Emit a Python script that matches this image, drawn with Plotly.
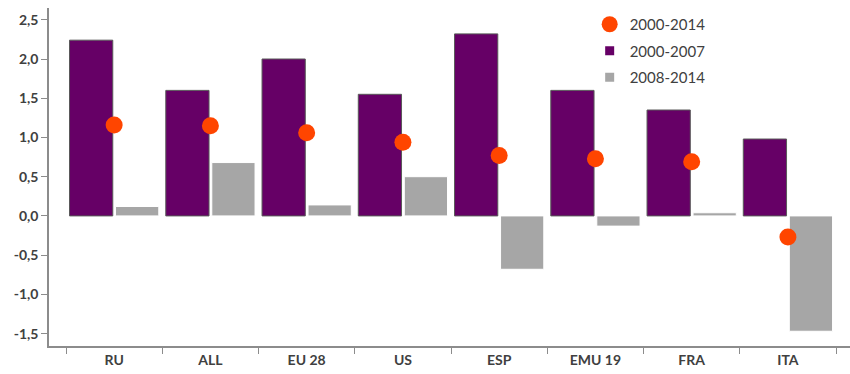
import plotly.graph_objects as go

countries = ["RU", "ALL", "EU 28", "US", "ESP", "EMU 19", "FRA", "ITA"]
growth_2000_2014 = [1.16, 1.15, 1.06, 0.94, 0.77, 0.73, 0.69, -0.27]
growth_2000_2007 = [2.24, 1.60, 2.00, 1.55, 2.32, 1.60, 1.35, 0.98]
growth_2008_2014 = [0.12, 0.68, 0.14, 0.50, -0.68, -0.13, 0.04, -1.47]
series_names = ["2000-2014", "2000-2007", "2008-2014"]

font_family = "Lato, 'Open Sans', sans-serif"
text_color = "#404040"
axis_color = "#8c8c8c"
purple = "#660066"
grey = "#a6a6a6"
orange = "#ff4500"

fig = go.Figure()
fig.add_trace(go.Bar(
    x=countries, y=growth_2000_2007, name=series_names[1], showlegend=False,
    marker=dict(color=purple, line=dict(color="#595959", width=1)),
))
fig.add_trace(go.Bar(
    x=countries, y=growth_2008_2014, name=series_names[2], showlegend=False,
    marker=dict(color=grey, line=dict(color="#ffffff", width=1)),
))
fig.add_trace(go.Scatter(
    x=countries, y=growth_2000_2014, name=series_names[0], mode="markers",
    showlegend=False,
    marker=dict(color=orange, size=17, symbol="circle"),
))

# legend entries with small square swatches for the bar series
legend_styles = [
    (series_names[0], orange, "circle", 17),
    (series_names[1], purple, "square", 9),
    (series_names[2], grey, "square", 9),
]
for rank, (name, color, symbol, size) in enumerate(legend_styles):
    fig.add_trace(go.Scatter(
        x=[None], y=[None], name=name, mode="markers", legendgroup=name,
        legendrank=rank + 1, showlegend=True,
        marker=dict(color=color, symbol=symbol, size=size),
    ))

fig.update_layout(
    width=850, height=374,
    margin=dict(l=49, r=0, t=8, b=28),
    plot_bgcolor="white", paper_bgcolor="white",
    barmode="group", bargap=0.044, bargroupgap=0.06,
    font=dict(family=font_family, color=text_color),
    legend=dict(
        x=0.675, y=1.0, xanchor="left", yanchor="top",
        font=dict(size=15, color=text_color),
        bgcolor="rgba(0,0,0,0)", itemsizing="trace", tracegroupgap=4,
        itemwidth=30,
    ),
)
fig.update_xaxes(
    type="category", range=[-0.677, 7.645],
    showline=True, linecolor=axis_color, linewidth=1.5,
    ticks="outside", tickson="boundaries", ticklen=6, tickcolor=axis_color,
    tickfont=dict(size=14, color=text_color, family=font_family, weight="bold"),
    showgrid=False, zeroline=False,
)
fig.update_yaxes(
    range=[-1.658, 2.65], tickvals=[-1.5, -1, -0.5, 0, 0.5, 1, 1.5, 2, 2.5],
    ticktext=["-1,5", "-1,0", "-0,5", "0,0", "0,5", "1,0", "1,5", "2,0", "2,5"],
    showline=True, linecolor=axis_color, linewidth=1.5,
    ticks="outside", ticklen=6, tickcolor=axis_color,
    tickfont=dict(size=14, color=text_color, family=font_family, weight="bold"),
    showgrid=False, zeroline=False,
)

fig.write_html("out.html")
